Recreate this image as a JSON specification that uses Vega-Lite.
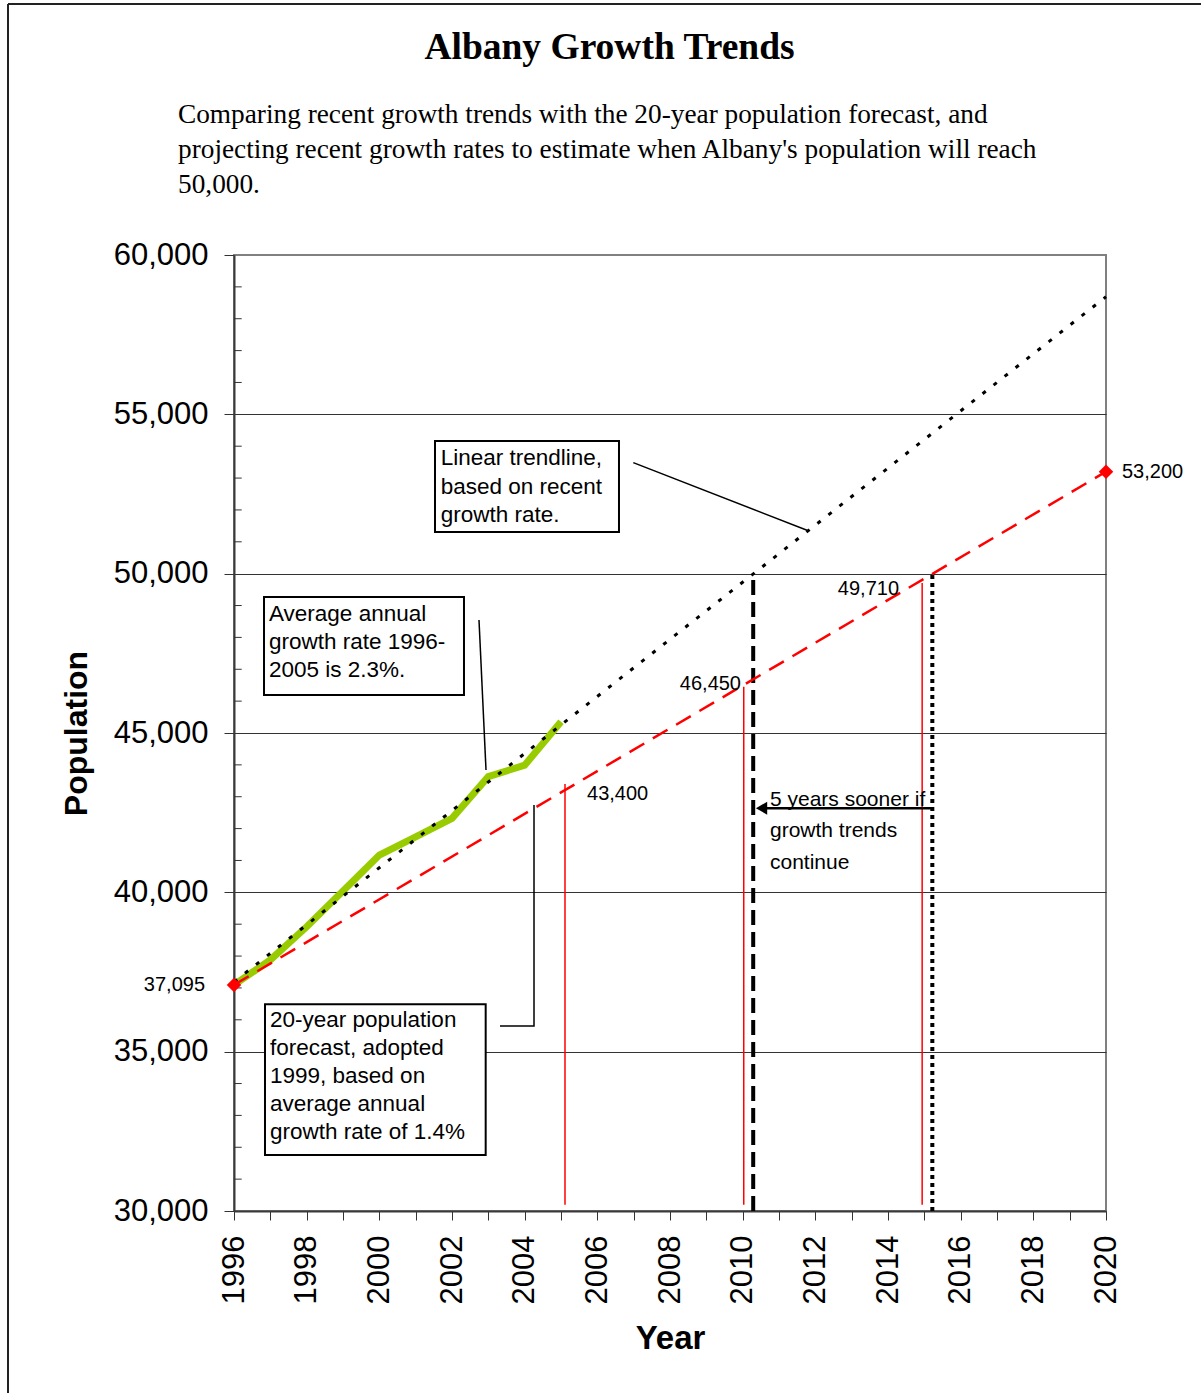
{
  "$schema": "https://vega.github.io/schema/vega-lite/v6.json",
  "width": 872,
  "height": 956,
  "autosize": {"type": "none"},
  "padding": {"left": 234, "top": 255, "right": 95, "bottom": 182},
  "background": "white",
  "config": {
    "view": {"stroke": "#808080", "strokeWidth": 2},
    "font": "Liberation Sans"
  },
  "datasets": {
    "actual": [
      {"yr": 1996, "pop": 37095},
      {"yr": 1997, "pop": 37880},
      {"yr": 1998, "pop": 38920},
      {"yr": 1999, "pop": 40040},
      {"yr": 2000, "pop": 41170},
      {"yr": 2001, "pop": 41740},
      {"yr": 2002, "pop": 42320},
      {"yr": 2003, "pop": 43630},
      {"yr": 2004, "pop": 43990},
      {"yr": 2005, "pop": 45350}
    ],
    "trend": [
      {"yr": 1996, "pop": 37190},
      {"yr": 2020, "pop": 58690}
    ],
    "forecast": [
      {"yr": 1996, "pop": 37095},
      {"yr": 2020, "pop": 53200}
    ],
    "forecastMarkers": [
      {"yr": 2005.11, "pop": 30200, "pop2": 43400},
      {"yr": 2010.03, "pop": 30200, "pop2": 46450},
      {"yr": 2014.94, "pop": 30200, "pop2": 49710}
    ],
    "trendReach": [
      {"yr": 2010.29, "pop": 30000, "pop2": 50000}
    ],
    "forecastReach": [
      {"yr": 2015.22, "pop": 30000, "pop2": 50000}
    ],
    "gap": [
      {"yr": 2010.6, "yr2": 2015.22, "pop": 42640}
    ],
    "gapHead": [
      {"yr": 2010.52, "pop": 42640}
    ],
    "minorTicks": [
      {"yr": 1996, "yr2": 1996.212, "pop": 31000},
      {"yr": 1996, "yr2": 1996.212, "pop": 32000},
      {"yr": 1996, "yr2": 1996.212, "pop": 33000},
      {"yr": 1996, "yr2": 1996.212, "pop": 34000},
      {"yr": 1996, "yr2": 1996.212, "pop": 36000},
      {"yr": 1996, "yr2": 1996.212, "pop": 37000},
      {"yr": 1996, "yr2": 1996.212, "pop": 38000},
      {"yr": 1996, "yr2": 1996.212, "pop": 39000},
      {"yr": 1996, "yr2": 1996.212, "pop": 41000},
      {"yr": 1996, "yr2": 1996.212, "pop": 42000},
      {"yr": 1996, "yr2": 1996.212, "pop": 43000},
      {"yr": 1996, "yr2": 1996.212, "pop": 44000},
      {"yr": 1996, "yr2": 1996.212, "pop": 46000},
      {"yr": 1996, "yr2": 1996.212, "pop": 47000},
      {"yr": 1996, "yr2": 1996.212, "pop": 48000},
      {"yr": 1996, "yr2": 1996.212, "pop": 49000},
      {"yr": 1996, "yr2": 1996.212, "pop": 51000},
      {"yr": 1996, "yr2": 1996.212, "pop": 52000},
      {"yr": 1996, "yr2": 1996.212, "pop": 53000},
      {"yr": 1996, "yr2": 1996.212, "pop": 54000},
      {"yr": 1996, "yr2": 1996.212, "pop": 56000},
      {"yr": 1996, "yr2": 1996.212, "pop": 57000},
      {"yr": 1996, "yr2": 1996.212, "pop": 58000},
      {"yr": 1996, "yr2": 1996.212, "pop": 59000}
    ],
    "callouts": [
      {"id": 1, "o": 1, "yr": 2006.99, "pop": 53483},
      {"id": 1, "o": 2, "yr": 2011.806, "pop": 51348},
      {"id": 2, "o": 1, "yr": 2002.743, "pop": 48546},
      {"id": 2, "o": 2, "yr": 2002.936, "pop": 43839},
      {"id": 3, "o": 1, "yr": 2003.321, "pop": 35805},
      {"id": 3, "o": 2, "yr": 2004.257, "pop": 35805},
      {"id": 3, "o": 3, "yr": 2004.257, "pop": 42741}
    ],
    "boxes": [
      {"yr": 2001.532, "yr2": 2006.596, "pop": 54163, "pop2": 51308},
      {"yr": 1996.826, "yr2": 2002.33, "pop": 49268, "pop2": 46193},
      {"yr": 1996.853, "yr2": 2002.927, "pop": 36486, "pop2": 31757}
    ],
    "boxNotes": [
      {"yr": 2001.689, "pop": 53400, "label": "Linear trendline,\nbased on recent\ngrowth rate."},
      {"yr": 1996.963, "pop": 48524, "label": "Average annual\ngrowth rate 1996-\n2005 is 2.3%."},
      {"yr": 1996.991, "pop": 35784, "label": "20-year population\nforecast, adopted\n1999, based on\naverage annual\ngrowth rate of 1.4%"}
    ],
    "soonerNote": [
      {"yr": 2010.752, "pop": 42719, "label": "5 years sooner if\ngrowth trends\ncontinue"}
    ],
    "valuesRight": [
      {"yr": 1995.202, "pop": 37095, "label": "37,095"},
      {"yr": 2009.954, "pop": 46540, "label": "46,450"},
      {"yr": 2014.303, "pop": 49520, "label": "49,710"}
    ],
    "valuesLeft": [
      {"yr": 2020.44, "pop": 53180, "label": "53,200"},
      {"yr": 2005.716, "pop": 43086, "label": "43,400"}
    ],
    "heading": [
      {"yr": 2006.335, "pop": 66151, "label": "Albany Growth Trends"}
    ],
    "intro": [
      {"yr": 1994.459, "pop": 64143, "label": "Comparing recent growth trends with the 20-year population forecast, and\nprojecting recent growth rates to estimate when Albany's population will reach\n50,000."}
    ],
    "pageFrame": [
      {"yr": 1989.78, "yr2": 1989.78, "pop": 24000, "pop2": 67877},
      {"yr": 1989.78, "yr2": 2023, "pop": 67877, "pop2": 67877}
    ]
  },
  "encoding": {
    "x": {
      "field": "yr",
      "type": "quantitative",
      "scale": {"domain": [1996, 2020], "nice": false, "zero": false},
      "axis": {
        "title": "Year",
        "values": [1996, 1997, 1998, 1999, 2000, 2001, 2002, 2003, 2004, 2005, 2006, 2007, 2008, 2009, 2010, 2011, 2012, 2013, 2014, 2015, 2016, 2017, 2018, 2019, 2020],
        "format": "d",
        "labelExpr": "datum.value % 2 === 0 ? datum.label : ''",
        "labelAngle": 270,
        "labelFontSize": 31,
        "labelColor": "black",
        "labelPadding": 15,
        "labelOverlap": false,
        "labelFlush": false,
        "tickSize": 9,
        "tickColor": "#333333",
        "tickWidth": 1,
        "domainColor": "#3a3a3a",
        "domainWidth": 2,
        "grid": false,
        "titleFontSize": 33,
        "titleFontWeight": "bold",
        "titleColor": "black",
        "titlePadding": 19
      }
    },
    "y": {
      "field": "pop",
      "type": "quantitative",
      "scale": {"domain": [30000, 60000], "nice": false, "zero": false},
      "axis": {
        "title": "Population",
        "values": [30000, 35000, 40000, 45000, 50000, 55000, 60000],
        "format": ",d",
        "labelFontSize": 31,
        "labelColor": "black",
        "labelPadding": 16,
        "labelFlush": false,
        "tickSize": 10,
        "tickColor": "#333333",
        "tickWidth": 1,
        "domainColor": "#3a3a3a",
        "domainWidth": 2,
        "grid": true,
        "gridColor": "#333333",
        "gridWidth": 1,
        "gridOpacity": {"condition": {"test": "datum.value === 60000 || datum.value === 30000", "value": 0}, "value": 1},
        "titleFontSize": 32,
        "titleFontWeight": "bold",
        "titleColor": "black",
        "titlePadding": 20
      }
    }
  },
  "layer": [
    {
      "data": {"name": "minorTicks"},
      "mark": {"type": "rule", "color": "#333333", "strokeWidth": 1},
      "encoding": {"x2": {"field": "yr2"}}
    },
    {
      "data": {"name": "actual"},
      "mark": {"type": "line", "color": "#99CC00", "strokeWidth": 7, "strokeJoin": "miter"}
    },
    {
      "data": {"name": "forecastMarkers"},
      "mark": {"type": "rule", "color": "#FF0000", "strokeWidth": 1.5},
      "encoding": {"y2": {"field": "pop2"}}
    },
    {
      "data": {"name": "trendReach"},
      "mark": {"type": "rule", "color": "black", "strokeWidth": 4, "strokeDash": [15, 7]},
      "encoding": {"y2": {"field": "pop2"}}
    },
    {
      "data": {"name": "forecastReach"},
      "mark": {"type": "rule", "color": "black", "strokeWidth": 4, "strokeDash": [4, 4]},
      "encoding": {"y2": {"field": "pop2"}}
    },
    {
      "data": {"name": "forecast"},
      "mark": {"type": "line", "color": "#FF0000", "strokeWidth": 2.5, "strokeDash": [17, 10]}
    },
    {
      "data": {"name": "trend"},
      "mark": {"type": "line", "color": "black", "strokeWidth": 3, "strokeDash": [4, 10]}
    },
    {
      "data": {"name": "forecast"},
      "mark": {"type": "point", "shape": "diamond", "filled": true, "color": "#FF0000", "size": 210, "opacity": 1}
    },
    {
      "data": {"name": "gap"},
      "mark": {"type": "rule", "color": "black", "strokeWidth": 2.5},
      "encoding": {"x2": {"field": "yr2"}}
    },
    {
      "data": {"name": "gapHead"},
      "mark": {"type": "point", "shape": "triangle-left", "filled": true, "color": "black", "size": 170, "opacity": 1}
    },
    {
      "data": {"name": "callouts"},
      "mark": {"type": "line", "color": "black", "strokeWidth": 1.5},
      "encoding": {"detail": {"field": "id"}, "order": {"field": "o"}}
    },
    {
      "data": {"name": "boxes"},
      "mark": {"type": "rect", "fill": "white", "stroke": "black", "strokeWidth": 2},
      "encoding": {"x2": {"field": "yr2"}, "y2": {"field": "pop2"}}
    },
    {
      "data": {"name": "boxNotes"},
      "mark": {"type": "text", "align": "left", "baseline": "alphabetic", "fontSize": 22.5, "lineBreak": "\n", "lineHeight": 28.2, "color": "black"},
      "encoding": {"text": {"field": "label"}}
    },
    {
      "data": {"name": "soonerNote"},
      "mark": {"type": "text", "align": "left", "baseline": "alphabetic", "font": "Liberation Sans", "fontSize": 21, "lineBreak": "\n", "lineHeight": 31.5, "color": "black"},
      "encoding": {"text": {"field": "label"}}
    },
    {
      "data": {"name": "valuesRight"},
      "mark": {"type": "text", "align": "right", "baseline": "middle", "fontSize": 20, "color": "black"},
      "encoding": {"text": {"field": "label"}}
    },
    {
      "data": {"name": "valuesLeft"},
      "mark": {"type": "text", "align": "left", "baseline": "middle", "fontSize": 20, "color": "black"},
      "encoding": {"text": {"field": "label"}}
    },
    {
      "data": {"name": "heading"},
      "mark": {"type": "text", "align": "center", "baseline": "alphabetic", "font": "Liberation Serif", "fontWeight": "bold", "fontSize": 37.5, "color": "black"},
      "encoding": {"text": {"field": "label"}}
    },
    {
      "data": {"name": "intro"},
      "mark": {"type": "text", "align": "left", "baseline": "alphabetic", "font": "Liberation Serif", "fontSize": 27.3, "lineBreak": "\n", "lineHeight": 35, "color": "black"},
      "encoding": {"text": {"field": "label"}}
    },
    {
      "data": {"name": "pageFrame"},
      "mark": {"type": "rule", "color": "#222222", "strokeWidth": 2},
      "encoding": {"x2": {"field": "yr2"}, "y2": {"field": "pop2"}}
    }
  ]
}
